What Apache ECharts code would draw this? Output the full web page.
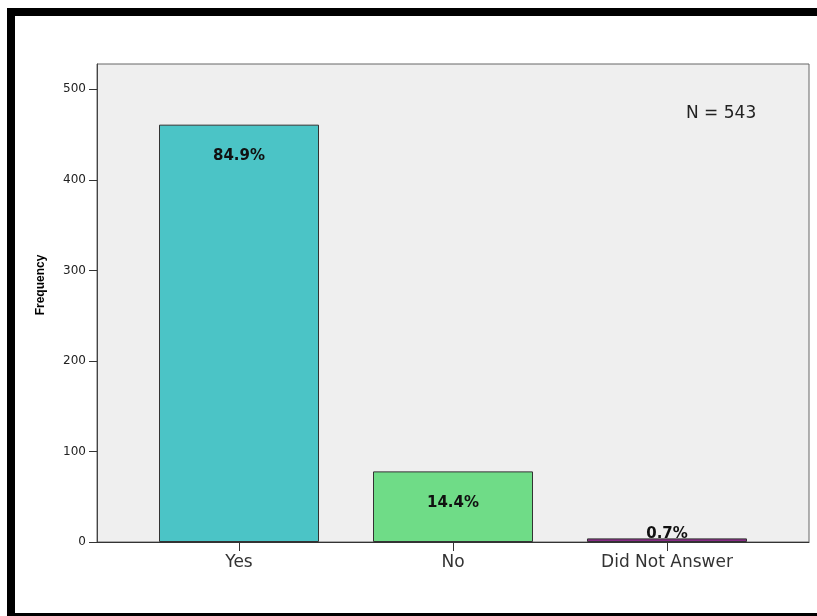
<!DOCTYPE html>
<html>
<head>
<meta charset="utf-8">
<script src="https://cdn.jsdelivr.net/npm/echarts@6/dist/echarts.min.js"></script>
<style>
  html, body { margin: 0; padding: 0; background: #fff; }
  #chart { width: 817px; height: 616px; }
</style>
</head>
<body>
<div id="chart"></div>
<script>
// Survey answers: counts per response
const categories = ['Yes', 'No', 'Did Not Answer'];
const counts = [461, 78, 4];
const barColors = ['#4bc4c6', '#6fdc87', '#882c86'];
const yTicks = [0, 100, 200, 300, 400, 500];

const total = counts.reduce((a, b) => a + b, 0);
const positions = categories.map((_, i) => i);

const chart = echarts.init(document.getElementById('chart'), null, { renderer: 'canvas' });

const barData = counts.map((v, i) => {
  const item = {
    value: [i, v],
    itemStyle: { color: barColors[i] }
  };
  // very short bar: label sits on top of it
  if (v < 20) {
    item.label = { position: 'top', distance: -3 };
  }
  return item;
});

chart.setOption({
  animation: false,
  backgroundColor: '#ffffff',
  textStyle: { fontFamily: 'DejaVu Sans' },
  title: {
    text: 'N = ' + total,
    left: 681,
    top: 100,
    textStyle: { fontFamily: 'DejaVu Sans', fontSize: 17, fontWeight: 'normal', color: '#222' }
  },
  grid: {
    left: 97, right: 8, top: 64, bottom: 74,
    show: true,
    backgroundColor: '#efefef',
    borderColor: '#666',
    borderWidth: 1
  },
  xAxis: {
    type: 'value',
    min: -0.6636,
    max: 2.6636,
    splitLine: { show: false },
    axisLine: { show: true, onZero: false, lineStyle: { color: '#333', width: 1 } },
    axisTick: {
      show: true, customValues: positions, length: 9, inside: false,
      lineStyle: { color: '#333' }
    },
    axisLabel: {
      customValues: positions,
      formatter: v => categories[Math.round(v)],
      fontFamily: 'DejaVu Sans', fontSize: 17, color: '#333', margin: 12
    }
  },
  yAxis: {
    type: 'value',
    min: 0,
    max: 528,
    splitLine: { show: false },
    axisLine: { show: true, onZero: false, lineStyle: { color: '#444', width: 1 } },
    axisTick: {
      show: true, customValues: yTicks, length: 8,
      lineStyle: { color: '#333' }
    },
    axisLabel: {
      customValues: yTicks,
      fontFamily: 'DejaVu Sans', fontSize: 12, color: '#222', margin: 11
    }
  },
  series: [{
    type: 'bar',
    barWidth: 160,
    data: barData,
    itemStyle: { borderColor: '#333', borderWidth: 1 },
    label: {
      show: true,
      position: 'insideTop',
      distance: 24,
      formatter: p => (p.value[1] / total * 100).toFixed(1) + '%',
      fontFamily: 'DejaVu Sans', fontWeight: 'bold', fontSize: 15, color: '#111'
    }
  }],
  graphic: [
    {
      type: 'text',
      x: 41,
      y: 285,
      rotation: Math.PI / 2,
      style: {
        text: 'Frequency',
        font: 'bold 12px "Liberation Sans", Arial, sans-serif',
        fill: '#000',
        align: 'center',
        verticalAlign: 'middle'
      }
    },
    {
      type: 'rect',
      silent: true,
      shape: { x: 11, y: 12, width: 900, height: 605 },
      style: { fill: 'none', stroke: '#000', lineWidth: 8 }
    }
  ]
});
</script>
</body>
</html>
